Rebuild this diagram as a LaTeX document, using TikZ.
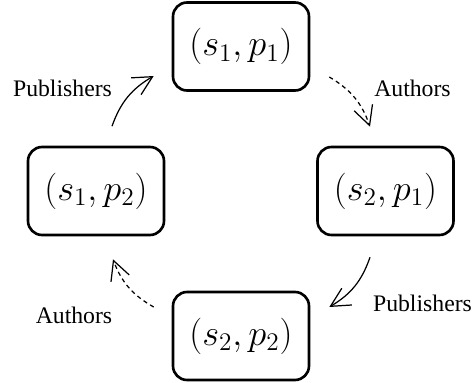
\documentclass[tikz,border=0pt]{standalone}
\usepackage{fontspec}
\setmainfont{Liberation Serif}
\usetikzlibrary{arrows.meta,calc}

\begin{document}
\begin{tikzpicture}[
			x=0.02cm, y=0.02cm,
			state/.style={draw=black, line width=1.5pt, rounded corners=0.28cm,
			minimum width=2.72cm, minimum height=1.76cm, inner sep=0pt,
			font=\fontsize{20.74}{25}\selectfont},
			lbl/.style={font=\fontsize{13.5}{16}\selectfont},
			flow/.style={line width=0.7pt, bend left=20,
			-{Straight Barb[length=3.8mm,width=3.9mm]}},
			pub/.style={flow},
			auth/.style={flow, dash pattern=on 2.4pt off 2pt}
			]
			\useasboundingbox (0,0) rectangle (472,382);
			\node[state] (s1p1) at (241,335.5) {$(s_1,p_1)$};
			\node[state] (s1p2) at (96,191)    {$(s_1,p_2)$};
			\node[state] (s2p1) at (385.5,191) {$(s_2,p_1)$};
			\node[state] (s2p2) at (241,46)    {$(s_2,p_2)$};
			% transitions round the cycle
			\draw[pub] ($(s1p2.north)+(16,19.5)$) to ($(s1p1.west)+(-18,-29.5)$);
			\draw[auth] ($(s1p1.east)+(19,-30.5)$) to ($(s2p1.north)+(-15.5,19)$);
			\draw[pub] ($(s2p1.south)+(-15.5,-21)$) to ($(s2p2.east)+(19,29)$);
			\draw[auth] ($(s2p2.west)+(-18,29)$) to ($(s1p2.south)+(17,-23)$);
			\node[lbl] (lpub1) at (62.5,294) {Publishers};
			\node[lbl] (laut1) at (412.5,294) {Authors};
			\node[lbl] (lpub2) at (422.5,78.5) {Publishers};
			\node[lbl] (laut2) at (74,67) {Authors};
		\end{tikzpicture}
\end{document}
